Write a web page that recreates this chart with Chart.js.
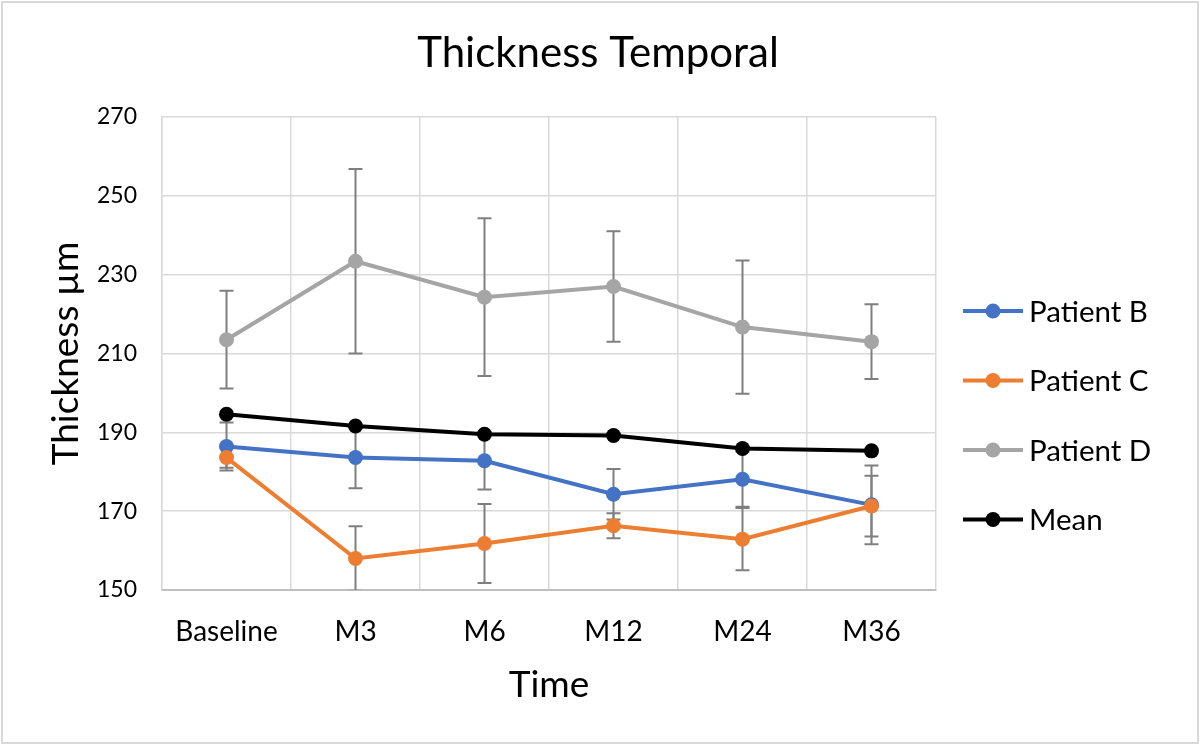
<!DOCTYPE html>
<html>
<head>
<meta charset="utf-8">
<script src="https://cdn.jsdelivr.net/npm/chart.js@4.4.1/dist/chart.umd.min.js"></script>
<style>
  html, body { margin: 0; padding: 0; background: #fff; }
  #wrap { width: 1200px; height: 745px; }
</style>
</head>
<body>
<div id="wrap"><canvas id="chart" width="1200" height="745"></canvas></div>
<script>
// data
const timepoints = ['Baseline', 'M3', 'M6', 'M12', 'M24', 'M36'];
const patientB = [186.4, 183.6, 182.8, 174.3, 178.1, 171.6];
const patientBErr = [6.1, 7.8, 7.3, 6.4, 7.0, 10.0];
const patientC = [183.6, 158.0, 161.8, 166.3, 162.9, 171.3];
const patientCErr = [2.6, 8.2, 10.0, 3.2, 7.9, 7.7];
const patientD = [213.5, 233.4, 224.3, 227.0, 216.7, 213.0];
const patientDErr = [12.4, 23.4, 20.0, 14.0, 16.9, 9.5];
const meanValues = [194.6, 191.6, 189.5, 189.2, 185.9, 185.3];
const yTicks = [150, 170, 190, 210, 230, 250, 270];
const chartTitle = 'Thickness Temporal';

const FONT = 'Lato';
const BLUE = '#4472C4', ORANGE = '#ED7D31', GREY = '#A5A5A5', BLACK = '#000000';

function series(label, data, color, order, err) {
  return {
    label, data, order,
    errors: err,
    borderColor: color,
    backgroundColor: color,
    borderWidth: 4,
    pointRadius: 7.5,
    pointHoverRadius: 7.5,
    pointBorderWidth: 0,
    pointBackgroundColor: color,
    tension: 0
  };
}

// error bars, drawn under the markers
const errorBars = {
  id: 'errorBars',
  beforeDatasetsDraw(chart) {
    const { ctx, chartArea, scales: { x, y } } = chart;
    ctx.save();
    ctx.beginPath();
    ctx.rect(chartArea.left, chartArea.top, chartArea.right - chartArea.left, chartArea.bottom - chartArea.top);
    ctx.clip();
    ctx.strokeStyle = '#7F7F7F';
    ctx.lineWidth = 2;
    chart.data.datasets.forEach(ds => {
      if (!ds.errors) return;
      ds.data.forEach((v, i) => {
        const px = x.getPixelForValue(i);
        const top = y.getPixelForValue(v + ds.errors[i]);
        const bot = y.getPixelForValue(v - ds.errors[i]);
        ctx.beginPath();
        ctx.moveTo(px, top); ctx.lineTo(px, bot);
        ctx.moveTo(px - 7, top); ctx.lineTo(px + 7, top);
        ctx.moveTo(px - 7, bot); ctx.lineTo(px + 7, bot);
        ctx.stroke();
      });
    });
    ctx.restore();
  }
};

// frame, title centred on the whole picture, Excel-style legend on the right
const decorations = {
  id: 'decorations',
  beforeDraw(chart) {
    const { ctx, width, height } = chart;
    ctx.save();
    ctx.fillStyle = '#fff';
    ctx.fillRect(0, 0, width, height);
    ctx.strokeStyle = '#D9D9D9';
    ctx.lineWidth = 2;
    ctx.strokeRect(2, 2, width - 4, height - 4);
    ctx.restore();
  },
  afterDraw(chart) {
    const { ctx } = chart;
    ctx.save();
    ctx.fillStyle = '#000';
    ctx.font = `42px ${FONT}`;
    ctx.textAlign = 'center';
    ctx.textBaseline = 'alphabetic';
    ctx.fillText(chartTitle, 598, 67);

    const items = [...chart.data.datasets].sort((a, b) => b.order - a.order);
    ctx.font = `29.5px ${FONT}`;
    ctx.textAlign = 'left';
    ctx.textBaseline = 'middle';
    items.forEach((ds, i) => {
      const cy = 311 + i * 69.5;
      ctx.strokeStyle = ds.borderColor;
      ctx.lineWidth = 4;
      ctx.beginPath();
      ctx.moveTo(963, cy); ctx.lineTo(1023, cy);
      ctx.stroke();
      ctx.fillStyle = ds.borderColor;
      ctx.beginPath();
      ctx.arc(993, cy, 7.5, 0, Math.PI * 2);
      ctx.fill();
      ctx.fillStyle = '#000';
      ctx.fillText(ds.label, 1029, cy + 1);
    });
    ctx.restore();
  }
};

new Chart(document.getElementById('chart'), {
  type: 'line',
  data: {
    labels: timepoints,
    datasets: [
      series('Patient B', patientB, BLUE, 4, patientBErr),
      series('Patient C', patientC, ORANGE, 3, patientCErr),
      series('Patient D', patientD, GREY, 2, patientDErr),
      series('Mean', meanValues, BLACK, 1, null)
    ]
  },
  options: {
    responsive: false,
    animation: false,
    layout: { padding: { left: 0, right: 264, top: 117, bottom: 0 } },
    plugins: {
      legend: { display: false },
      tooltip: { enabled: false },
      title: { display: false }
    },
    scales: {
      x: {
        offset: true,
        grid: { offset: true, color: '#D9D9D9', lineWidth: 1.5, drawTicks: false },
        border: { color: '#BFBFBF', width: 2 },
        ticks: { color: '#000', font: { family: FONT, size: 28 }, padding: 25, maxRotation: 0 },
        title: {
          display: true, text: 'Time', color: '#000',
          font: { family: FONT, size: 37 }, padding: { top: 0, bottom: 38 }
        },
        afterFit(scale) { scale.height = 155; }
      },
      y: {
        min: 150, max: 270,
        afterBuildTicks(scale) { scale.ticks = yTicks.map(v => ({ value: v })); },
        grid: { color: '#D9D9D9', lineWidth: 1.5, drawTicks: false },
        border: { color: '#D9D9D9', width: 1.5 },
        ticks: { color: '#000', font: { family: FONT, size: 23 }, padding: 25 },
        title: {
          display: true, text: 'Thickness µm', color: '#000',
          font: { family: FONT, size: 37 }, padding: { top: 44, bottom: 0 }
        },
        afterFit(scale) { scale.width = 162; }
      }
    }
  },
  plugins: [errorBars, decorations]
});
</script>
</body>
</html>
